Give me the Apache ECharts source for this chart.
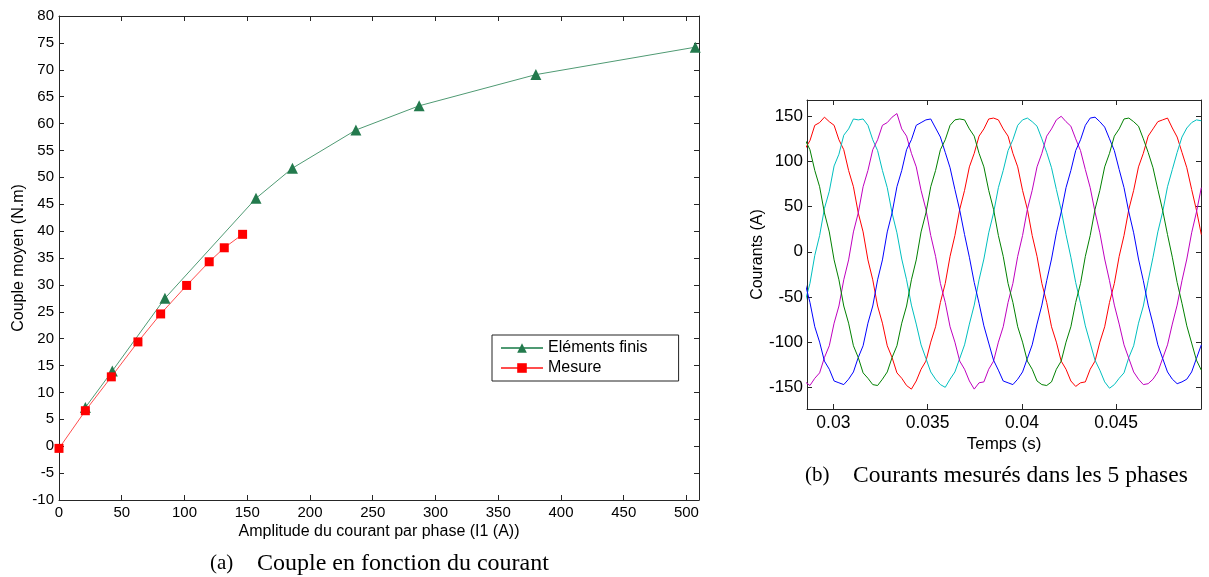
<!DOCTYPE html>
<html><head><meta charset="utf-8">
<script src="https://cdn.jsdelivr.net/npm/echarts@6/dist/echarts.min.js"></script>
<style>html,body{margin:0;padding:0;background:#fff}#c{width:1209px;height:577px}</style>
</head><body><div id="c"></div>
<script>
// ---------- Panel (a) : torque vs current ----------
const feCurrent   = [21, 42.5, 84.4, 157, 186, 236.6, 287, 380, 507];
const feTorque    = [7.2, 14, 27.5, 46.1, 51.7, 58.8, 63.3, 69.1, 74.2];
const measCurrent = [0, 21, 41.7, 62.9, 81, 101.7, 119.7, 131.7, 146.3];
const measTorque  = [-0.4, 6.6, 12.9, 19.4, 24.6, 29.9, 34.3, 36.9, 39.4];
const xTicksA = [0, 50, 100, 150, 200, 250, 300, 350, 400, 450, 500];

// ---------- Panel (b) : measured phase currents ----------
const times = [0.028500,0.028756,0.029013,0.029269,0.029525,0.029782,0.030038,0.030294,0.030550,0.030807,
0.031063,0.031319,0.031576,0.031832,0.032088,0.032345,0.032601,0.032857,0.033113,0.033370,
0.033626,0.033882,0.034139,0.034395,0.034651,0.034908,0.035164,0.035420,0.035676,0.035933,
0.036189,0.036445,0.036702,0.036958,0.037214,0.037471,0.037727,0.037983,0.038239,0.038496,
0.038752,0.039008,0.039265,0.039521,0.039777,0.040034,0.040290,0.040546,0.040802,0.041059,
0.041315,0.041571,0.041828,0.042084,0.042340,0.042597,0.042853,0.043109,0.043365,0.043622,
0.043878,0.044134,0.044391,0.044647,0.044903,0.045160,0.045416,0.045672,0.045928,0.046185,
0.046441,0.046697,0.046954,0.047210,0.047466,0.047723,0.047979,0.048235,0.048491,0.048748,
0.049004,0.049260,0.049517];
const iRed = [114,123,140,143,
149,144,140,124,113,90,72,43,22,-9,-31,-60,-79,-104,-117,-134,-140,-148,-152,-143,-130,-121,-100,-83,-56,-35,-5,18,47,68,94,109,128,136,147,
148,146,136,128,109,94,68,47,18,-5,-35,-56,-83,-100,-121,-130,-143,-149,-145,-144,-130,-121,-100,-83,-56,-35,-5,18,47,68,94,109,128,136,144,
146,148,137,127,110,93,69,46,19];
const iCyan = [-55,-35,-4,18,48,67,95,108,129,136,147,
146,147,140,124,112,90,71,43,21,-8,-31,-59,-80,-103,-118,-133,-141,-147,-150,-141,-133,-118,-103,-80,-59,-31,-8,21,43,71,90,112,124,140,146,
148,144,139,125,110,93,69,46,19,-6,-34,-57,-82,-101,-120,-131,-144,-151,-147,-140,-134,-117,-104,-79,-60,-32,-6,22,44,72,91,110,127,137,143,
146,145];
const iMagenta = [-144,-148,-140,-134,-117,-104,-79,-60,-31,-9,22,43,72,90,113,124,140,143,
149,153,136,128,109,94,68,47,18,-5,-35,-56,-83,-100,-121,-130,-143,-152,-145,-144,-130,-121,-100,-83,-56,-35,-5,18,47,68,94,109,128,136,146,
150,144,139,125,112,91,71,44,21,-8,-32,-59,-80,-103,-118,-133,-141,-147,-146,-141,-133,-118,-103,-80,-59,-32,-8,21,44,71];
const iBlue = [-35,-56,-83,-100,-121,-130,-143,-145,-147,-141,-133,-117,-104,-79,-60,-31,-9,22,43,72,90,113,124,140,143,
146,147,137,127,110,93,69,46,19,-6,-34,-57,-82,-101,-120,-131,-143,-145,-147,-141,-133,-118,-103,-80,-59,-32,-8,21,44,71,90,112,124,140,148,
149,144,138,125,112,91,71,44,21,-8,-32,-59,-80,-103,-118,-133,-141,-146,-144,-141,-133,-118,-103];
const iGreen = [124,113,90,72,43,22,-9,-31,-60,-79,-104,-117,-134,-140,-147,-148,-141,-133,-117,-104,-79,-60,-31,-9,22,43,72,90,113,124,140,146,
147,146,136,128,109,94,68,47,18,-5,-35,-56,-83,-100,-121,-130,-143,-147,-148,-144,-130,-121,-100,-83,-56,-35,-5,18,47,68,94,109,128,136,147,
148,144,139,125,110,93,69,46,19,-6,-34,-57,-82,-101,-120,-131];
const xTicksB = [0.03, 0.035, 0.04, 0.045];
const yTicksB = [-150, -100, -50, 0, 50, 100, 150];

const FONT = '"Liberation Sans", Arial, sans-serif';
const SERIF = '"Liberation Serif", "Times New Roman", serif';
const AX = '#262626';
const zip = (a, b) => a.map((v, i) => [v, b[i]]);

function axis(o) {
  const base = {
    type: 'value',
    splitLine: { show: false },
    nameMoveOverlap: false,
    axisLine: { show: true, onZero: false, lineStyle: { color: AX, width: 1 } },
    axisTick: { show: true, inside: true, length: 5, lineStyle: { color: AX } },
    axisLabel: { show: true, color: '#000', fontSize: 15, fontFamily: FONT },
    nameTextStyle: { color: '#000', fontSize: 16, fontFamily: FONT }
  };
  const r = Object.assign({}, base, o);
  r.axisTick = Object.assign({}, base.axisTick, o.axisTick || {});
  r.axisLabel = Object.assign({}, base.axisLabel, o.axisLabel || {});
  r.nameTextStyle = Object.assign({}, base.nameTextStyle, o.nameTextStyle || {});
  return r;
}

const chart = echarts.init(document.getElementById('c'));
chart.setOption({
  animation: false,
  textStyle: { fontFamily: FONT },
  grid: [
    { left: 59, top: 16, width: 640, height: 484, containLabel: false, outerBoundsMode: 'none' },
    { left: 807, top: 100, width: 394, height: 309, containLabel: false, outerBoundsMode: 'none' }
  ],
  xAxis: [
    axis({ gridIndex: 0, position: 'bottom', min: 0, max: 510,
      axisTick: { customValues: xTicksA }, axisLabel: { customValues: xTicksA, margin: 5 },
      name: 'Amplitude du courant par phase (I1 (A))', nameLocation: 'middle', nameGap: 24 }),
    axis({ gridIndex: 0, position: 'top', min: 0, max: 510,
      axisTick: { customValues: xTicksA }, axisLabel: { show: false } }),
    axis({ gridIndex: 1, position: 'bottom', min: 0.0286, max: 0.0495,
      axisTick: { customValues: xTicksB }, axisLabel: { customValues: xTicksB, margin: 5, fontSize: 17.5 },
      name: 'Temps (s)', nameLocation: 'middle', nameGap: 27, nameTextStyle: { fontSize: 17 } }),
    axis({ gridIndex: 1, position: 'top', min: 0.0286, max: 0.0495,
      axisTick: { customValues: xTicksB }, axisLabel: { show: false } })
  ],
  yAxis: [
    axis({ gridIndex: 0, position: 'left', min: -10, max: 80, interval: 5,
      axisLabel: { margin: 5 },
      name: 'Couple moyen (N.m)', nameLocation: 'middle', nameGap: 32 }),
    axis({ gridIndex: 0, position: 'right', min: -10, max: 80, interval: 5,
      axisLabel: { show: false } }),
    axis({ gridIndex: 1, position: 'left', min: -174, max: 168,
      axisTick: { customValues: yTicksB }, axisLabel: { customValues: yTicksB, margin: 4, fontSize: 17 },
      name: 'Courants (A)', nameLocation: 'middle', nameGap: 41, nameTextStyle: { fontSize: 16 } }),
    axis({ gridIndex: 1, position: 'right', min: -174, max: 168,
      axisTick: { customValues: yTicksB }, axisLabel: { show: false } })
  ],
  legend: {
    left: 492, top: 335, orient: 'vertical',
    backgroundColor: '#fff', borderColor: '#222', borderWidth: 1,
    padding: [5, 31, 5, 8], itemGap: 4, itemWidth: 42, itemHeight: 12,
    textStyle: { fontSize: 16, color: '#000', fontFamily: FONT },
    data: ['Eléments finis', 'Mesure']
  },
  series: [
    { name: 'Eléments finis', type: 'line', xAxisIndex: 0, yAxisIndex: 0,
      data: zip(feCurrent, feTorque), symbol: 'triangle', symbolSize: 11,
      itemStyle: { color: '#237a4d' }, lineStyle: { color: '#4f9a73', width: 1 } },
    { name: 'Mesure', type: 'line', xAxisIndex: 0, yAxisIndex: 0,
      data: zip(measCurrent, measTorque), symbol: 'rect', symbolSize: 9,
      itemStyle: { color: '#ff0000' }, lineStyle: { color: '#ff4d4d', width: 1 } },
    { type: 'line', xAxisIndex: 2, yAxisIndex: 2, data: zip(times, iRed), showSymbol: false, lineStyle: { color: '#ff0000', width: 1 } },
    { type: 'line', xAxisIndex: 2, yAxisIndex: 2, data: zip(times, iCyan), showSymbol: false, lineStyle: { color: '#00bfbf', width: 1 } },
    { type: 'line', xAxisIndex: 2, yAxisIndex: 2, data: zip(times, iMagenta), showSymbol: false, lineStyle: { color: '#bf00bf', width: 1 } },
    { type: 'line', xAxisIndex: 2, yAxisIndex: 2, data: zip(times, iBlue), showSymbol: false, lineStyle: { color: '#0000ff', width: 1 } },
    { type: 'line', xAxisIndex: 2, yAxisIndex: 2, data: zip(times, iGreen), showSymbol: false, lineStyle: { color: '#008000', width: 1 } }
  ],
  graphic: [
    { type: 'text', left: 210, top: 553,
      style: { text: '(a)', font: '21px ' + SERIF, fill: '#000' } },
    { type: 'text', left: 257, top: 552,
      style: { text: 'Couple en fonction du courant', font: '24px ' + SERIF, fill: '#000' } },
    { type: 'text', left: 805, top: 465,
      style: { text: '(b)', font: '21px ' + SERIF, fill: '#000' } },
    { type: 'text', left: 853, top: 464,
      style: { text: 'Courants mesurés dans les 5 phases', font: '23.5px ' + SERIF, fill: '#000' } }
  ]
});
</script></body></html>
